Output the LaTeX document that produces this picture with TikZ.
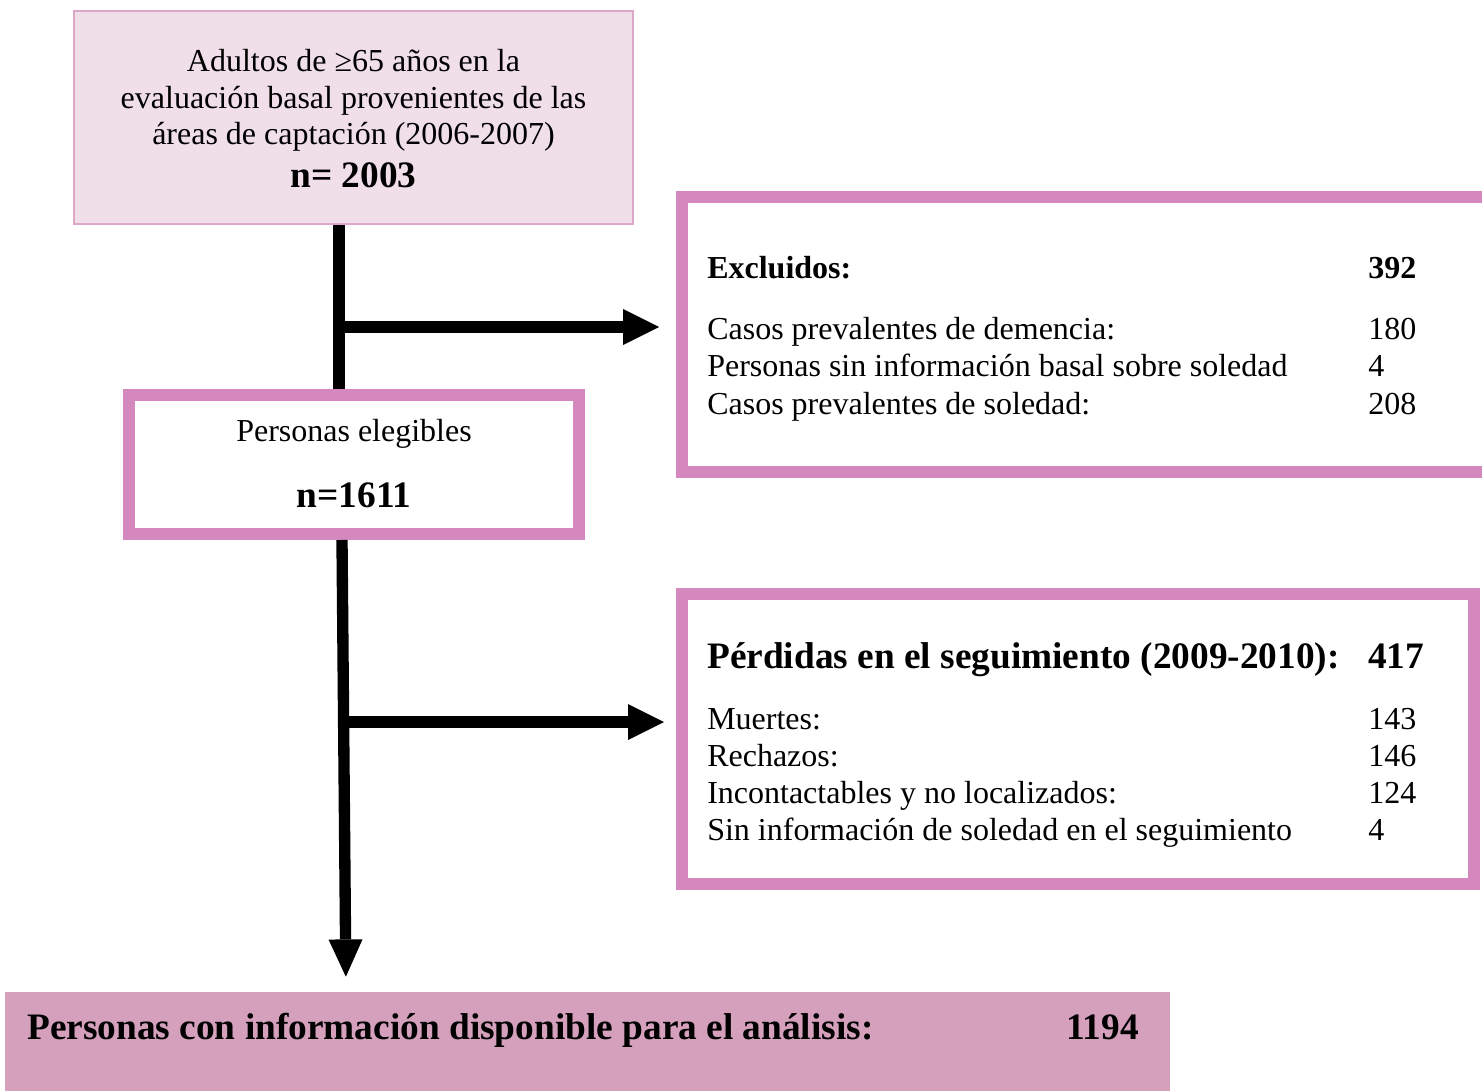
\documentclass[tikz,border=0pt]{standalone}
\usepackage{fontspec}
\setmainfont{Liberation Serif}
\usetikzlibrary{arrows.meta,fit}
\definecolor{pinkbd}{HTML}{D488BE}
\definecolor{pinklt}{HTML}{F0DEE8}
\definecolor{pinkln}{HTML}{DBA8C8}
\definecolor{pinkfill}{HTML}{D4A0BC}
\begin{document}
\begin{tikzpicture}[x=0.75pt,y=-0.75pt,
  txt/.style={inner sep=0pt, anchor=base west, font=\fontsize{24pt}{29pt}\selectfont},
  txtc/.style={inner sep=0pt, anchor=base, font=\fontsize{24pt}{29pt}\selectfont},
  txtb/.style={inner sep=0pt, anchor=base west, font=\fontsize{24pt}{29pt}\selectfont\bfseries},
  bigb/.style={inner sep=0pt, anchor=base west, font=\fontsize{28pt}{33pt}\selectfont\bfseries},
  bigbc/.style={inner sep=0pt, anchor=base, font=\fontsize{28pt}{33pt}\selectfont\bfseries},
  lightbox/.style={draw=pinkln, fill=pinklt, line width=1.5pt, inner sep=0pt},
  thickbox/.style={draw=pinkbd, fill=white, line width=9pt, inner sep=0pt},
  resbox/.style={fill=pinkfill, inner sep=0pt},
  flowline/.style={line width=8.5pt, black},
  harr/.style={line width=8.5pt, black, -{Triangle[length=27pt,width=27pt,line width=0pt]}},
  varr/.style={line width=8.5pt, black, -{Triangle[length=28pt,width=25.5pt,line width=0pt]}}
]
\useasboundingbox (0,0) rectangle (1482,1091);

% boxes
\node[lightbox, fit={(74,11) (633,224)}] (b1) {};
\node[thickbox, fit={(129,395) (579,534)}] (b2) {};
\node[thickbox, fit={(682,197) (1500,472)}] (b3) {};
\node[thickbox, fit={(682,594) (1474,884)}] (b4) {};
\node[resbox, fit={(5,992) (1170,1095)}] (b5) {};

% box 1 text
\node[txtc] (t1a) at (353.5,71.5) {Adultos de ≥65 años en la};
\node[txtc] (t1b) at (353.5,108.5) {evaluación basal provenientes de las};
\node[txtc] (t1c) at (353.5,144.5) {áreas de captación (2006-2007)};
\node[bigbc] (t1d) at (353.5,188) {n= 2003};

% box 2 text
\node[txtc] (t2a) at (354,441) {Personas elegibles};
\node[bigbc] (t2b) at (354,507.5) {n=1611};

% box 3 text
\node[txtb] (t3a) at (707,278.5) {Excluidos:};
\node[txtb] (n3a) at (1368,278.5) {392};
\node[txt] (t3b) at (707,339.5) {Casos prevalentes de demencia:};
\node[txt] (n3b) at (1368,339.5) {180};
\node[txt] (t3c) at (707,376.5) {Personas sin información basal sobre soledad};
\node[txt] (n3c) at (1368,376.5) {4};
\node[txt] (t3d) at (707,414.5) {Casos prevalentes de soledad:};
\node[txt] (n3d) at (1368,414.5) {208};

% box 4 text
\node[bigb] (t4a) at (707,668) {Pérdidas en el seguimiento (2009-2010):};
\node[bigb] (n4a) at (1368,668) {417};
\node[txt] (t4b) at (707,729.5) {Muertes:};
\node[txt] (n4b) at (1368,729.5) {143};
\node[txt] (t4c) at (707,766.5) {Rechazos:};
\node[txt] (n4c) at (1368,766.5) {146};
\node[txt] (t4d) at (707,803.5) {Incontactables y no localizados:};
\node[txt] (n4d) at (1368,803.5) {124};
\node[txt] (t4e) at (707,840.5) {Sin información de soledad en el seguimiento};
\node[txt] (n4e) at (1368,840.5) {4};

% box 5 text
\node[bigb] (t5a) at (27,1039) {Personas con información disponible para el análisis:};
\node[bigb, anchor=base east] (n5a) at (1139,1039) {1194};

% connectors
\coordinate (j1) at (339,327);
\coordinate (j2) at (343.7,722);
\coordinate (c2top) at (342,0);
\coordinate (c2bot) at (346,0);
\draw[flowline] (j1 |- b1.south) -- (j1 |- b2.north);
\draw[harr, shorten >=12.75pt] (j1) -- (j1 -| b3.west);
\draw[varr, shorten >=11.25pt] (c2top |- b2.south) -- (c2bot |- b5.north);
\draw[harr, shorten >=9pt] (j2) -- (j2 -| b4.west);
\end{tikzpicture}
\end{document}
